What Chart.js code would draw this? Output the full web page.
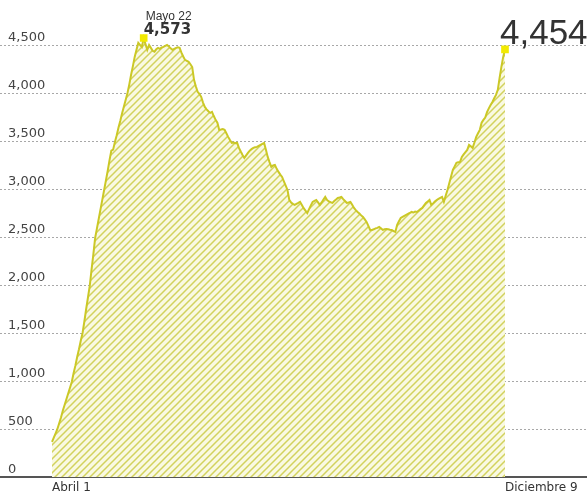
<!DOCTYPE html>
<html>
<head>
<meta charset="utf-8">
<script src="https://cdn.jsdelivr.net/npm/chart.js@4"></script>
<style>
  html, body { margin: 0; padding: 0; background: #fff; }
  #wrap { width: 587px; height: 498px; position: relative; }
</style>
</head>
<body>
<div id="wrap"><canvas id="chart"></canvas></div>
<script>
// daily values, Abril 1 .. Diciembre 9
const casos = [
  365, 410, 455, 500, 560, 620, 690, 750, 810, 870,
  930, 990, 1080, 1160, 1250, 1330, 1420, 1500, 1620, 1750,
  1870, 1990, 2160, 2320, 2490, 2590, 2690, 2790, 2890, 2990,
  3090, 3190, 3300, 3400, 3410, 3490, 3560, 3640, 3710, 3790,
  3860, 3930, 4000, 4090, 4190, 4280, 4376, 4450, 4522, 4500,
  4480, 4573, 4510, 4450, 4500, 4470, 4440, 4430, 4455, 4470,
  4460, 4475, 4480, 4490, 4500, 4485, 4465, 4450, 4460, 4470,
  4475, 4470, 4420, 4380, 4345, 4335, 4325, 4300, 4270, 4137,
  4070, 4012, 3990, 3960, 3900, 3855, 3830, 3810, 3793, 3803,
  3760, 3720, 3690, 3616, 3620, 3625, 3616, 3580, 3543, 3510,
  3480, 3485, 3478, 3480, 3428, 3390, 3355, 3324, 3350, 3376,
  3400, 3415, 3428, 3435, 3439, 3450, 3460, 3470, 3480, 3410,
  3334, 3280, 3230, 3245, 3251, 3210, 3178, 3150, 3126, 3080,
  3035, 2990, 2886, 2860, 2845, 2834, 2845, 2855, 2866, 2834,
  2800, 2775, 2750, 2790, 2830, 2866, 2876, 2886, 2860, 2834,
  2860, 2890, 2918, 2886, 2870, 2862, 2855, 2875, 2890, 2907,
  2912, 2918, 2895, 2875, 2855, 2860, 2866, 2835, 2803, 2780,
  2761, 2745, 2725, 2709, 2683, 2657, 2615, 2574, 2574, 2580,
  2590, 2595, 2605, 2590, 2574, 2580, 2584, 2580, 2576, 2574,
  2562, 2553, 2626, 2665, 2699, 2710, 2720, 2730, 2740, 2750,
  2761, 2755, 2765, 2761, 2775, 2790, 2803, 2830, 2855, 2870,
  2886, 2834, 2850, 2870, 2886, 2897, 2908, 2918, 2866, 2930,
  2990, 3060, 3130, 3200, 3236, 3272, 3278, 3282, 3334, 3360,
  3385, 3407, 3460, 3445, 3428, 3485, 3543, 3580, 3616, 3690,
  3720, 3745, 3800, 3840, 3875, 3907, 3945, 3980, 4033, 4158,
  4272, 4376, 4454
];
const diasTicks = [0, 252];
const etiquetasX = ["Abril 1", "Diciembre 9"];
const ticksY = [0, 500, 1000, 1500, 2000, 2500, 3000, 3500, 4000, 4500];
const picoDia = 51;
const picoEtiqueta = "Mayo 22";

const fmt = v => v.toLocaleString("en-US");
const ultimo = casos.length - 1;

// hatched fill
function rayado() {
  const c = document.createElement("canvas");
  c.width = 7; c.height = 7;
  const g = c.getContext("2d");
  g.fillStyle = "#f9f9e2";
  g.fillRect(0, 0, 7, 7);
  g.strokeStyle = "#d2d25e";
  g.lineWidth = 1.5;
  g.beginPath();
  g.moveTo(-1, 8); g.lineTo(8, -1);
  g.moveTo(-1, 1); g.lineTo(1, -1);
  g.moveTo(6, 8); g.lineTo(8, 6);
  g.stroke();
  return g.createPattern(c, "repeat");
}

const notas = {
  id: "notas",
  afterDatasetsDraw(chart) {
    const { ctx, scales: { x, y } } = chart;
    const px = x.getPixelForValue(picoDia), py = y.getPixelForValue(casos[picoDia]);
    ctx.save();
    ctx.fillStyle = "#333";
    ctx.textAlign = "left";
    ctx.textBaseline = "alphabetic";
    ctx.font = '12px "Liberation Sans"';
    ctx.fillText(picoEtiqueta, px + 2, py - 18);
    ctx.font = 'bold 15px "DejaVu Sans"';
    ctx.fillText(fmt(casos[picoDia]), px, py - 4);
    const ex = x.getPixelForValue(ultimo), ey = y.getPixelForValue(casos[ultimo]);
    ctx.font = '35px "Liberation Sans"';
    ctx.fillText(fmt(casos[ultimo]), ex - 5, ey - 5);
    ctx.restore();
  }
};

const ctx = document.getElementById("chart").getContext("2d");
const chart = new Chart(ctx, {
  type: "line",
  data: {
    datasets: [{
      data: casos.map((v, i) => ({ x: i, y: v })),
      borderColor: "#cbc826",
      borderWidth: 2,
      backgroundColor: rayado(),
      fill: "origin",
      tension: 0,
      pointRadius: c => (c.dataIndex === picoDia || c.dataIndex === ultimo) ? 4 : 0,
      pointStyle: "rect",
      pointBackgroundColor: "#f2ea00",
      pointBorderColor: "#f2ea00"
    }]
  },
  options: {
    responsive: true,
    maintainAspectRatio: false,
    animation: false,
    layout: { autoPadding: false, padding: { top: 21, left: 0, right: 0, bottom: 0 } },
    plugins: { legend: { display: false }, tooltip: { enabled: false } },
    scales: {
      x: {
        type: "linear",
        min: -28.93,
        max: 297.62,
        afterBuildTicks: s => { s.ticks = diasTicks.map(v => ({ value: v })); },
        afterFit: s => { s.height = 21; s.paddingLeft = 0; s.paddingRight = 0; },
        grid: { display: false, drawTicks: false },
        border: { display: true, color: "#555", width: 2 },
        ticks: {
          align: "start",
          padding: 4,
          maxRotation: 0,
          color: "#333",
          font: { family: "DejaVu Sans", size: 12 },
          callback: (v) => etiquetasX[diasTicks.indexOf(v)]
        }
      },
      y: {
        min: 0,
        max: 4750,
        afterBuildTicks: s => { s.ticks = ticksY.map(v => ({ value: v })); },
        afterFit: s => { s.width = 0; },
        grid: { color: "#a8a8a8", lineWidth: 1, drawTicks: false },
        border: { display: false, dash: [2, 2] },
        ticks: {
          mirror: true,
          padding: 8,
          labelOffset: -7,
          color: "#444",
          font: { family: "DejaVu Sans", size: 13 },
          callback: v => fmt(v)
        }
      }
    }
  },
  plugins: [notas]
});
</script>
</body>
</html>
